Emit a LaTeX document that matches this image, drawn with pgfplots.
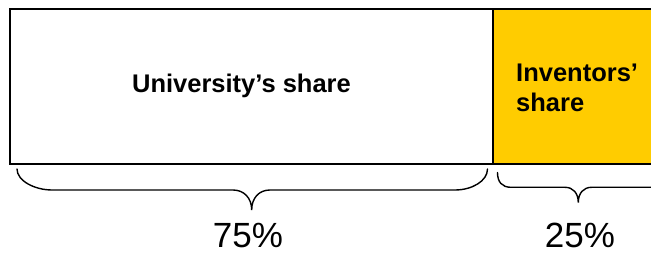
\documentclass[border=0pt]{standalone}
\usepackage{pgfplots}
\pgfplotsset{compat=1.18}
\usepackage{fontspec}
\setmainfont{Liberation Sans}
\definecolor{gold}{HTML}{FFCC00}
\begin{document}
\begin{tikzpicture}
\begin{axis}[name=ax, at={(0,0)}, anchor=south west, scale only axis,
  width=651bp, height=255bp,
  xmin=-1.5528, xmax=99.534, ymin=0, ymax=255,
  hide axis, xbar stacked, bar width=155]
\addplot[fill=white, draw=black, line width=1.2bp] coordinates {(75,168.5)};
\addplot[fill=gold, draw=black, line width=1.2bp] coordinates {(25,168.5)};
\end{axis}
\begin{scope}[x=1bp, y=1bp, line width=1.4bp, line cap=round]
% left brace (75%)
\draw (17,86) .. controls (17,74) and (35,65) .. (52,65)
  -- (233,65) .. controls (244,65) and (251.7,57) .. (251.7,45)
  .. controls (251.7,57) and (259,65) .. (270,65)
  -- (455,65) .. controls (472,65) and (487.5,74) .. (487.5,86);
% right brace (25%)
\draw (497.5,82.5) .. controls (497.5,73) and (502,67.7) .. (511,67.7)
  -- (565,67.7) .. controls (573,67.7) and (578.3,62) .. (578.3,52.3)
  .. controls (578.3,62) and (583.6,67.7) .. (591.6,67.7)
  -- (651,67.7);
% labels
\node[anchor=base, inner sep=0pt, font=\bfseries\fontsize{25.5bp}{30bp}\selectfont]
  at (241.5,162.3) {University’s share};
\node[anchor=base west, inner sep=0pt, font=\bfseries\fontsize{25.5bp}{30bp}\selectfont]
  at (515.5,173.5) {Inventors’};
\node[anchor=base west, inner sep=0pt, font=\bfseries\fontsize{25.5bp}{30bp}\selectfont]
  at (515.5,143.3) {share};
\node[anchor=base, inner sep=0pt, font=\fontsize{35bp}{35bp}\selectfont]
  at (248,7.5) {75\%};
\node[anchor=base, inner sep=0pt, font=\fontsize{35bp}{35bp}\selectfont]
  at (580,7.5) {25\%};
\end{scope}
\pgfresetboundingbox
\path[use as bounding box] (0,0) rectangle (651bp,255bp);
\end{tikzpicture}
\end{document}
